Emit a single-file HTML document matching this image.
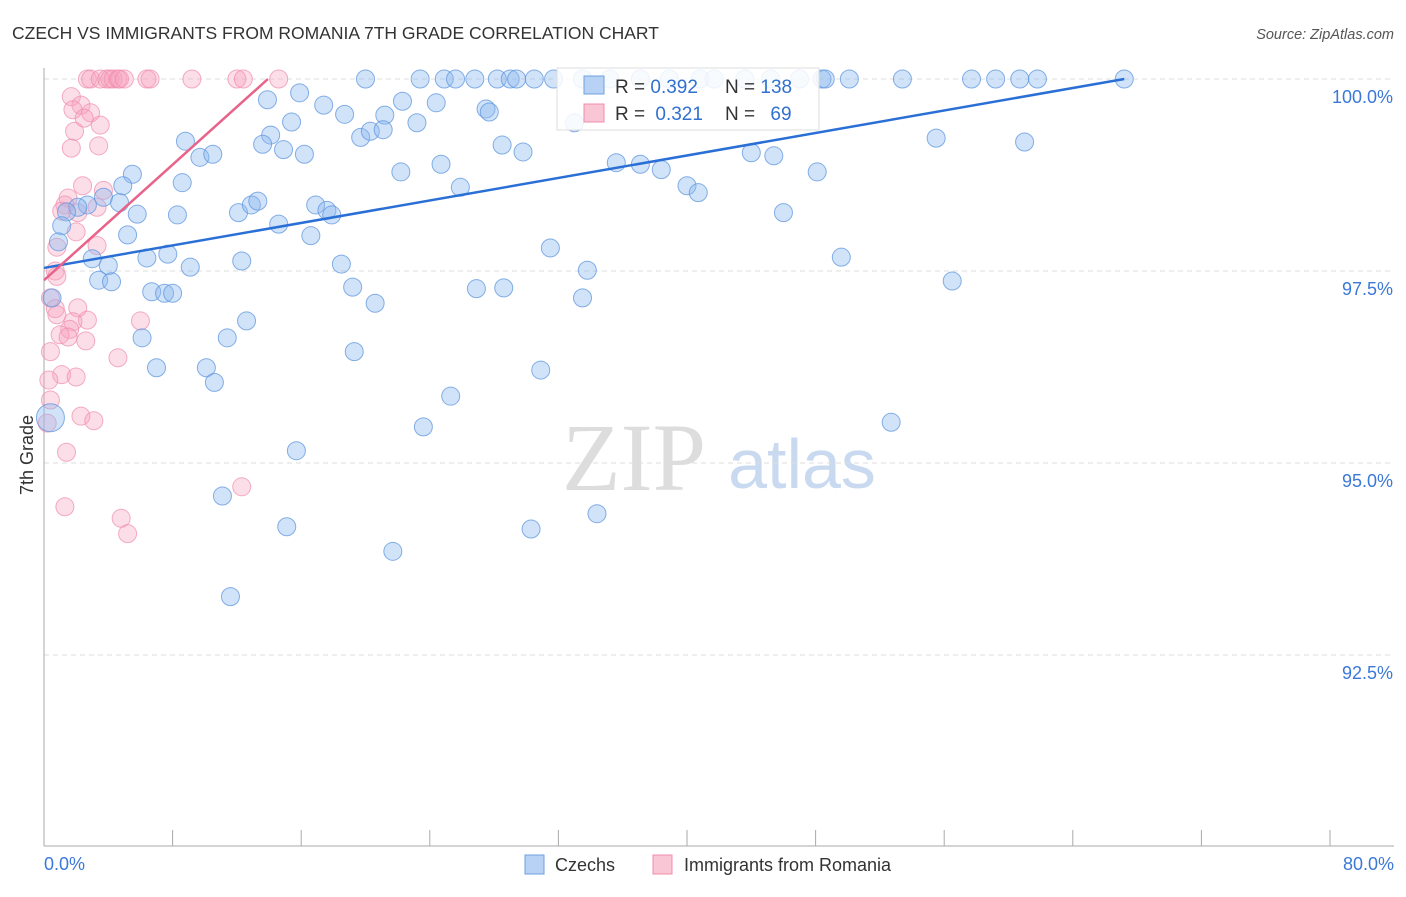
<!DOCTYPE html>
<html><head><meta charset="utf-8"><style>
body{margin:0;background:#fff;font-family:"Liberation Sans",sans-serif;}
</style></head><body>
<svg id="chart" width="1406" height="892" xmlns="http://www.w3.org/2000/svg" font-family="Liberation Sans, sans-serif">
<text x="12" y="39" font-size="17.5" fill="#333">CZECH VS IMMIGRANTS FROM ROMANIA 7TH GRADE CORRELATION CHART</text>
<text x="1394" y="39" font-size="14.5" fill="#555" text-anchor="end" font-style="italic">Source: ZipAtlas.com</text>
<g>
<text x="634" y="490" font-size="96" fill="#ddd" text-anchor="middle" font-family="Liberation Serif, serif">ZIP</text>
<text x="802" y="488" font-size="70" fill="#c9daf0" text-anchor="middle">atlas</text>
</g>
<g id="grid"></g>
<g id="axes"></g>
<g id="pts"></g>
<g id="lines"></g>
<text transform="translate(33,455) rotate(-90)" font-size="18" fill="#333" text-anchor="middle">7th Grade</text>
<g>
<rect x="557" y="68" width="262" height="62" fill="#fff" fill-opacity="0.85" stroke="#ddd"/>
<rect x="584" y="76" width="20" height="18" fill="#b7d2f5" stroke="#6fa0e0"/>
<rect x="584" y="104" width="20" height="18" fill="#f9c6d6" stroke="#f08cab"/>
<text x="615" y="93" font-size="19" fill="#333">R = <tspan fill="#3070d0">0.392</tspan></text>
<text x="725" y="93" font-size="19" fill="#333">N = <tspan fill="#3070d0">138</tspan></text>
<text x="615" y="120" font-size="19" fill="#333">R = <tspan fill="#3070d0" dx="5">0.321</tspan></text>
<text x="725" y="120" font-size="19" fill="#333">N = <tspan fill="#3070d0" dx="10">69</tspan></text>
</g>
<g>
<rect x="525" y="855" width="19" height="19" fill="#b7d2f5" stroke="#6fa0e0"/>
<text x="555" y="871" font-size="18" fill="#333">Czechs</text>
<rect x="653" y="855" width="19" height="19" fill="#f9c6d6" stroke="#f08cab"/>
<text x="684" y="871" font-size="18" fill="#333">Immigrants from Romania</text>
</g>
</svg>
<script>
const yTicks=[100,97.5,95,92.5];
const yTickLabels=["100.0%","97.5%","95.0%","92.5%"];
const xTickLabels=["0.0%","80.0%"];
const czX=[20.0,23.4,24.9,25.6,26.8,28.2,29.0,29.4,30.5,31.7,33.5,35.2,37.1,38.9,40.8,41.7,43.6,45.2,47.0,48.4,48.6,50.1,53.4,57.7,59.2,60.7,61.8,67.2,
13.9,15.9,17.4,18.7,21.2,22.3,24.4,27.5,27.7,33.0,15.4,23.2,14.1,13.6,14.9,16.2,19.7,20.3,21.1,8.8,9.7,10.5,28.5,29.8,35.6,37.1,38.4,44.0,45.4,48.1,55.5,61.0,24.7,22.2,25.9,40.0,40.7,5.5,4.9,8.6,3.7,4.7,2.7,2.1,1.4,1.1,0.9,5.8,8.3,12.1,12.9,13.3,14.6,16.9,17.6,17.9,46.0,5.2,16.6,31.5,3.0,6.4,7.7,12.3,4.0,9.1,18.5,33.8,49.6,56.5,3.4,4.2,6.7,7.5,8.0,19.2,20.6,26.9,28.6,33.5,12.6,11.4,6.1,19.3,7.0,10.1,10.6,30.9,25.3,52.7,23.6,15.7,11.1,15.1,21.7,30.3,34.4,11.6,0.4,0.5];
const czY=[100,100,100,100,100,100,100,100,100,100,100,100,100,100,100,100,100,100,100,100,100,100,100,100,100,100,100,100,
99.73,99.82,99.66,99.54,99.53,99.71,99.69,99.61,99.57,99.43,99.44,99.43,99.27,99.15,99.08,99.02,99.24,99.32,99.34,99.19,98.98,99.02,99.14,99.05,98.91,98.89,98.82,99.04,99.0,98.79,99.23,99.18,98.89,98.79,98.59,98.61,98.52,98.76,98.61,98.65,98.46,98.39,98.36,98.33,98.27,98.09,97.88,98.24,98.23,98.26,98.36,98.41,98.11,98.36,98.29,98.23,98.26,97.97,97.96,97.80,97.66,97.67,97.72,97.63,97.57,97.55,97.59,97.51,97.68,97.37,97.38,97.36,97.23,97.21,97.21,97.29,97.08,97.27,97.28,97.15,96.85,96.63,96.63,96.45,96.24,96.24,96.05,96.21,95.87,95.53,95.47,95.16,94.57,94.17,93.85,94.14,94.34,93.26,95.59,97.15];
const roX=[2.7,2.9,3.5,3.9,4.1,4.3,4.6,4.7,5.0,6.4,6.6,9.2,12.0,12.4,14.6,
1.7,2.3,1.8,2.9,3.5,1.9,2.5,3.4,1.7,2.4,3.7,1.5,1.3,2.1,3.3,1.1,2.0,3.3,0.8,0.7,0.8,0.4,2.1,0.7,0.8,2.7,1.8,6.0,1.6,1.0,1.5,2.6,0.4,4.6,1.1,2.0,0.3,0.4,2.3,3.1,0.2,1.4,12.3,1.3,4.8,5.2];
const roY=[100,100,100,100,100,100,100,100,100,100,100,100,100,100,100,
99.77,99.66,99.60,99.56,99.40,99.32,99.49,99.13,99.10,98.61,98.55,98.45,98.36,98.26,98.33,98.28,98.01,97.83,97.81,97.50,97.43,97.15,97.02,97.01,96.93,96.86,96.84,96.85,96.74,96.67,96.64,96.59,96.45,96.37,96.15,96.12,96.08,95.82,95.61,95.55,95.52,95.14,94.69,94.43,94.28,94.08];
const czTrend=[[0,97.54],[67.2,100]];
const roTrend=[[0,97.38],[13.93,100]];
const NS="http://www.w3.org/2000/svg";
const X=v=>44+v*16.075, Y=v=>79+(100-v)*76.8;
function mk(t,a,p){const e=document.createElementNS(NS,t);for(const k in a)e.setAttribute(k,a[k]);document.getElementById(p).appendChild(e);return e;}
yTicks.forEach((t,i)=>{
 const l=mk('line',{x1:44,x2:1394,y1:Y(t),y2:Y(t),stroke:'#ddd','stroke-dasharray':'5,4'},'grid');
 
 
 const tx=mk('text',{x:1393,y:Y(t)+24,'font-size':18,fill:'#3b78d8','text-anchor':'end'},'axes');
 tx.textContent=yTickLabels[i];
 
 
});
let ax=mk('line',{x1:44,x2:44,y1:68,y2:846,stroke:'#aaa'},'axes');


ax=mk('line',{x1:44,x2:1394,y1:846,y2:846,stroke:'#aaa'},'axes');


for(let i=0;i<=10;i++){const t=mk('line',{x1:X(i*8),x2:X(i*8),y1:830,y2:846,stroke:'#aaa'},'axes');
 
 }
[[0,'start'],[80,'end']].forEach((p,i)=>{const t=mk('text',{x:i?1394:44,y:870,'font-size':18,fill:'#3b78d8','text-anchor':p[1]},'axes');t.textContent=xTickLabels[i];
 
 });
roX.forEach((x,i)=>{const c=mk('circle',{cx:X(x),cy:Y(roY[i]),r:9,fill:'rgba(245,160,190,0.35)',stroke:'#f08cab','stroke-opacity':0.7},'pts');
 
 });
czX.forEach((x,i)=>{const big=i===czX.length-2;const c=mk('circle',{cx:X(x),cy:Y(czY[i]),r:big?14:9,fill:'rgba(140,185,240,0.4)',stroke:'#5f95dd','stroke-opacity':0.75},'pts');
 
 });
let tl=mk('line',{x1:X(czTrend[0][0]),y1:Y(czTrend[0][1]),x2:X(czTrend[1][0]),y2:Y(czTrend[1][1]),stroke:'#2a6fd6','stroke-width':2.5},'lines');


tl=mk('line',{x1:X(roTrend[0][0]),y1:Y(roTrend[0][1]),x2:X(roTrend[1][0]),y2:Y(roTrend[1][1]),stroke:'#e8628a','stroke-width':2.5},'lines');


</script>
</body></html>
